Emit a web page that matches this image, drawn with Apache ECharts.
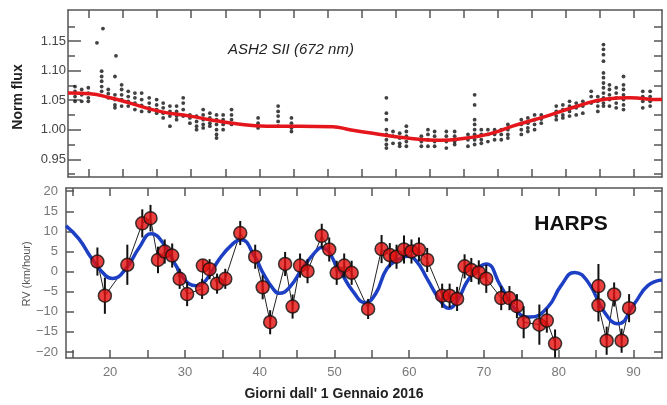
<!DOCTYPE html>
<html>
<head>
<meta charset="utf-8">
<script src="https://cdn.jsdelivr.net/npm/echarts@6/dist/echarts.min.js"></script>
<style>
  html, body { margin: 0; padding: 0; background: #fff; }
  #chart { width: 667px; height: 405px; }
</style>
</head>
<body>
<div id="chart"></div>
<script>
// --- pannello superiore: flusso normalizzato (ASH2 SII) ---
// colonne di punti: [x, [flussi...]]
var fluxCols = [
    [12.95, [1.073, 1.065, 1.056, 1.048]],
    [13.93, [1.068, 1.059, 1.048]],
    [14.90, [1.071, 1.062, 1.054, 1.048]],
    [16.86, [1.099, 1.090, 1.082, 1.073, 1.065]],
    [17.83, [1.068, 1.061, 1.054]],
    [18.81, [1.090, 1.059, 1.051, 1.042, 1.037]],
    [19.79, [1.076, 1.068, 1.059, 1.051, 1.040]],
    [20.76, [1.065, 1.056, 1.048, 1.040]],
    [21.74, [1.062, 1.054, 1.045, 1.034]],
    [22.73, [1.062, 1.051, 1.041, 1.031]],
    [23.84, [1.054, 1.045, 1.037, 1.031]],
    [24.93, [1.051, 1.042, 1.034, 1.028]],
    [25.89, [1.045, 1.037, 1.028, 1.020]],
    [26.88, [1.040, 1.031, 1.023, 1.006]],
    [27.86, [1.040, 1.031, 1.023, 1.017]],
    [28.83, [1.054, 1.045, 1.034, 1.023]],
    [29.81, [1.025, 1.020, 1.011]],
    [30.79, [1.023, 1.014, 1.006, 1.000]],
    [31.76, [1.034, 1.025, 1.017, 1.009, 1.003]],
    [32.74, [1.028, 1.020, 1.011, 1.006]],
    [33.72, [1.025, 1.017, 1.009, 1.000, 0.992, 0.986]],
    [34.69, [1.025, 1.017, 1.009, 1.000]],
    [35.92, [1.034, 1.025, 1.017, 1.009]],
    [39.82, [1.020, 1.011, 1.003]],
    [42.76, [1.040, 1.031, 1.023, 1.014, 1.006]],
    [44.72, [1.020, 1.011, 1.003, 0.997]],
    [58.65, [1.054, 1.028, 1.017, 1.000, 0.992, 0.983, 0.975, 0.969]],
    [59.62, [0.997, 0.989, 0.977]],
    [60.60, [0.994, 0.986, 0.977, 0.972]],
    [61.58, [1.006, 0.997, 0.989, 0.980, 0.972]],
    [63.78, [0.989, 0.980, 0.972]],
    [64.75, [1.000, 0.992, 0.983, 0.972]],
    [65.73, [0.997, 0.989, 0.980, 0.972]],
    [67.45, [0.997, 0.989, 0.980, 0.969]],
    [68.67, [0.997, 0.989, 0.980, 0.975]],
    [70.62, [0.992, 0.983, 0.972]],
    [71.60, [1.059, 1.042, 1.017, 1.009, 1.000, 0.992, 0.983, 0.975]],
    [72.58, [1.000, 0.992, 0.983, 0.977]],
    [73.55, [1.000, 0.992, 0.980]],
    [74.53, [1.000, 0.992, 0.983]],
    [75.51, [1.000, 0.992, 0.983]],
    [76.48, [1.009, 1.000, 0.992, 0.986]],
    [78.45, [1.017, 1.009, 1.000, 0.992]],
    [79.41, [1.020, 1.011, 1.003, 0.997]],
    [80.40, [1.025, 1.017, 1.009, 1.000]],
    [81.38, [1.025, 1.018, 1.011]],
    [83.58, [1.040, 1.031, 1.023, 1.017]],
    [84.55, [1.042, 1.034, 1.025, 1.020]],
    [85.53, [1.048, 1.040, 1.031, 1.023]],
    [86.51, [1.045, 1.037, 1.025]],
    [87.48, [1.048, 1.040, 1.028]],
    [88.71, [1.065, 1.056, 1.045]],
    [89.68, [1.056, 1.048, 1.040, 1.031]],
    [90.51, [1.144, 1.136, 1.127, 1.116, 1.096, 1.088, 1.079, 1.071, 1.062, 1.054, 1.045, 1.040]],
    [91.39, [1.076, 1.068, 1.059, 1.051, 1.040]],
    [92.38, [1.071, 1.062, 1.054, 1.045, 1.037]],
    [93.45, [1.090, 1.076, 1.068, 1.059, 1.051, 1.042, 1.034]],
    [96.28, [1.065, 1.056, 1.048, 1.037]],
    [97.36, [1.065, 1.056, 1.048, 1.040]]
];
var fluxOutliers = [[17.05, 1.171], [16.17, 1.147], [18.96, 1.125]];

// curva rossa (modello)
var fitX = [11.92, 12.21, 15.15, 18.08, 21.01, 25.41, 29.81, 32.74, 36.11, 41.10, 45.94, 50.78, 53.27, 56.64, 61.63, 66.47, 70.43, 73.8, 77.17, 82.16, 87.0, 90.95, 94.33, 98.73, 99.1];
var fitY = [1.062, 1.062, 1.061, 1.054, 1.045, 1.031, 1.023, 1.017, 1.011, 1.006, 1.006, 1.005, 1.000, 0.994, 0.986, 0.982, 0.986, 0.993, 1.006, 1.023, 1.041, 1.052, 1.054, 1.051, 1.051];

// --- pannello inferiore: HARPS RV ---
var rvDay = [18.3, 19.3, 22.3, 24.3, 25.4, 26.4, 27.3, 28.3, 29.3, 30.3, 32.3, 32.4, 33.3, 34.3, 35.4, 37.4, 39.4, 40.4, 41.4, 43.4, 44.4, 45.4, 46.4, 48.3, 49.3, 50.3, 51.3, 52.3, 54.5, 56.3, 57.4, 58.3, 59.3, 60.3, 61.3, 62.4, 64.4, 65.4, 66.4, 67.4, 68.3, 69.3, 70.3, 72.3, 73.4, 74.4, 75.3, 77.4, 78.4, 79.5, 85.3, 85.3, 86.4, 87.4, 88.4, 89.4];
var rvVal = [2.5, -6, 1.7, 12, 13.3, 2.9, 5, 4, -1.8, -5.6, -4.3, 1.5, 0.6, -3, -1.8, 9.6, 3.7, -3.9, -12.6, 1.9, -8.7, 1.5, 0.1, 8.9, 5.5, -0.3, 1.5, -0.3, -9.3, 5.6, 4.1, 3.7, 5.5, 5, 5.5, 2.9, -6, -6, -6.8, 1.3, 0.4, -0.2, -1.8, -6.6, -6.6, -8.6, -12.6, -13.2, -12.2, -17.9, -3.6, -8.4, -17.2, -5.7, -17.2, -9.1];
var rvErr = [3.5, 4.5, 5, 3.5, 3.3, 3.3, 3, 3, 2.5, 3, 2.5, 1.5, 2.5, 2.5, 2.5, 3, 3, 3, 3, 3, 3, 3, 3, 3, 3, 3, 3, 3, 2.5, 3.5, 3, 3, 3.5, 3, 3, 3, 3, 3, 3, 3, 3, 3, 3.5, 3, 3, 3, 4, 5, 3, 3.5, 5.5, 4, 3.5, 3, 3, 3.5];

// curva blu (modello)
var modX = [14.1, 15.8, 17.6, 19.4, 20.3, 22.1, 23.9, 25.5, 27.0, 28.8, 30.6, 31.5, 32.8, 34.6, 36.4, 37.5, 39.4, 40.4, 41.8, 42.6, 44.0, 45.8, 47.6, 48.2, 50.7, 52.5, 54.1, 55.5, 57.0, 58.5, 59.8, 61.0, 62.4, 64.0, 65.3, 66.5, 67.7, 69.0, 70.3, 72.2, 74.5, 76.2, 78.5, 80.3, 82.1, 83.9, 86.1, 87.9, 90.1, 91.9, 93.8];
var modY = [11.4, 8.2, 3.1, -1.0, -1.7, 0.7, 6.0, 9.4, 7.3, 1.5, -3.1, -3.5, -2.2, 3.1, 6.9, 7.9, 3.5, -0.2, -4.3, -5.4, -3.9, 1.1, 5.2, 6.0, 0.2, -5.0, -7.7, -5.5, 0.7, 3.0, 3.8, 2.5, -1.8, -6.8, -9.1, -7.0, -2.6, 0.5, 1.9, -3.5, -10.1, -11.3, -8.9, -3.5, -0.2, -2.6, -10.1, -13.0, -8.0, -3.5, -2.1];

// tick
var fluxTicks = [0.95, 1.00, 1.05, 1.10, 1.15];
var fluxMinor = [0.925, 0.975, 1.025, 1.075, 1.125, 1.175];
var fluxRight = [0.925, 0.95, 0.975, 1.00, 1.025, 1.05, 1.075, 1.10, 1.125, 1.15, 1.175];
var topXTicks = [15, 20, 25, 30, 35, 40, 45, 50, 55, 60, 65, 70, 75, 80, 85, 90, 95];
var dayTicks = [15, 20, 25, 30, 35, 40, 45, 50, 55, 60, 65, 70, 75, 80, 85, 90];
var dayLabels = [20, 30, 40, 50, 60, 70, 80, 90];
var rvTicks = [-20, -15, -10, -5, 0, 5, 10, 15, 20];

var fluxPts = [];
fluxCols.forEach(function (c) {
    c[1].forEach(function (f) { fluxPts.push([c[0], f]); });
});
fluxOutliers.forEach(function (p) { fluxPts.push(p); });

var fitData = fitX.map(function (x, i) { return [x, fitY[i]]; });
var modData = modX.map(function (x, i) { return [x, modY[i]]; });
var rvData = rvDay.map(function (d, i) { return [d, rvVal[i]]; });
var errData = rvDay.map(function (d, i) { return [d, rvVal[i] - rvErr[i], rvVal[i] + rvErr[i]]; });
// la linea nera non collega i punti separati da un buco lungo (80 -> 85)
var rvLine = [];
rvData.forEach(function (p, i) {
    if (i > 0 && p[0] - rvData[i - 1][0] > 4) rvLine.push('-');
    rvLine.push(p);
});

var FONT = '"Liberation Sans", Arial, sans-serif';
var AX = {onZero: false, lineStyle: {color: '#555', width: 1.5}};

function boxX(grid, pos, min, max, ticks) {
    return {
        type: 'value', gridIndex: grid, position: pos, min: min, max: max,
        axisLine: AX, splitLine: {show: false},
        axisTick: {inside: true, length: 8, customValues: ticks, lineStyle: {color: '#555', width: 1.5}},
        axisLabel: {show: false}
    };
}

var chart = echarts.init(document.getElementById('chart'));
chart.setOption({
    animation: false,
    backgroundColor: '#fff',
    grid: [
        {left: 68, right: 5, top: 10, height: 167},
        {left: 66, right: 5, top: 188, height: 170}
    ],
    xAxis: [
        boxX(0, 'bottom', 11.92, 99.1, topXTicks),
        boxX(0, 'top', 11.92, 99.1, topXTicks),
        {
            type: 'value', gridIndex: 1, position: 'bottom', min: 14.1, max: 93.8,
            axisLine: AX, splitLine: {show: false},
            axisTick: {inside: true, length: 8, customValues: dayTicks, lineStyle: {color: '#555', width: 1.5}},
            axisLabel: {customValues: dayLabels, color: '#777', fontSize: 13, fontFamily: FONT, margin: 8}
        },
        boxX(1, 'top', 14.1, 93.8, dayTicks)
    ],
    yAxis: [
        {
            type: 'value', gridIndex: 0, position: 'left', min: 0.92, max: 1.2025,
            axisLine: AX, splitLine: {show: false},
            axisTick: {inside: true, length: 13, customValues: fluxTicks, lineStyle: {color: '#555', width: 1.5}},
            axisLabel: {
                customValues: fluxTicks, color: '#444', fontSize: 13, fontFamily: FONT, margin: 2,
                formatter: function (v) { return v.toFixed(2); }
            }
        },
        {
            type: 'value', gridIndex: 0, position: 'left', min: 0.92, max: 1.2025,
            axisLine: {show: false}, splitLine: {show: false}, axisLabel: {show: false},
            axisTick: {inside: true, length: 7, customValues: fluxMinor, lineStyle: {color: '#555', width: 1.5}}
        },
        {
            type: 'value', gridIndex: 0, position: 'right', min: 0.92, max: 1.2025,
            axisLine: AX, splitLine: {show: false}, axisLabel: {show: false},
            axisTick: {inside: true, length: 8, customValues: fluxRight, lineStyle: {color: '#555', width: 1.5}}
        },
        {
            type: 'value', gridIndex: 1, position: 'left', min: -21.5, max: 20.8,
            axisLine: AX, splitLine: {show: false},
            axisTick: {inside: true, length: 8, customValues: rvTicks, lineStyle: {color: '#555', width: 1.5}},
            axisLabel: {
                customValues: rvTicks, color: '#777', fontSize: 13, fontFamily: FONT, margin: 8,
                formatter: function (v) { return String(v).replace('-', '\u2212'); }
            }
        },
        {
            type: 'value', gridIndex: 1, position: 'right', min: -21.5, max: 20.8,
            axisLine: AX, splitLine: {show: false}, axisLabel: {show: false},
            axisTick: {inside: true, length: 8, customValues: rvTicks, lineStyle: {color: '#555', width: 1.5}}
        }
    ],
    graphic: [
        {type: 'text', x: 18, y: 97, rotation: Math.PI / 2,
            style: {text: 'Norm flux', font: 'bold 14px ' + FONT, fill: '#222', align: 'center', verticalAlign: 'middle'}},
        {type: 'text', x: 27, y: 274, rotation: Math.PI / 2,
            style: {text: 'RV (km/hour)', font: '11px ' + FONT, fill: '#555', align: 'center', verticalAlign: 'middle'}},
        {type: 'text', x: 291, y: 50,
            style: {text: 'ASH2 SII (672 nm)', font: 'italic 15px ' + FONT, fill: '#222', align: 'center', verticalAlign: 'middle'}},
        {type: 'text', x: 571, y: 224,
            style: {text: 'HARPS', font: 'bold 21px ' + FONT, fill: '#111', align: 'center', verticalAlign: 'middle'}},
        {type: 'text', x: 334, y: 394,
            style: {text: "Giorni dall' 1 Gennaio 2016", font: 'bold 14px ' + FONT, fill: '#222', align: 'center', verticalAlign: 'middle'}}
    ],
    series: [
        {
            type: 'scatter', xAxisIndex: 0, yAxisIndex: 0, data: fluxPts,
            symbolSize: 3.8, itemStyle: {color: '#111'}, z: 2
        },
        {
            type: 'line', xAxisIndex: 0, yAxisIndex: 0, data: fitData, smooth: true,
            showSymbol: false, lineStyle: {color: '#e4161b', width: 3.5}, z: 3
        },
        {
            type: 'line', xAxisIndex: 2, yAxisIndex: 3, data: rvLine, connectNulls: false,
            showSymbol: false, lineStyle: {color: '#222', width: 1}, z: 2
        },
        {
            type: 'line', xAxisIndex: 2, yAxisIndex: 3, data: modData, smooth: true,
            showSymbol: false, lineStyle: {color: '#1c3fc4', width: 3.5}, z: 3
        },
        {
            type: 'custom', xAxisIndex: 2, yAxisIndex: 3, data: errData, z: 4,
            encode: {x: 0, y: [1, 2]},
            renderItem: function (params, api) {
                var p1 = api.coord([api.value(0), api.value(1)]);
                var p2 = api.coord([api.value(0), api.value(2)]);
                return {
                    type: 'line',
                    shape: {x1: p1[0], y1: p1[1], x2: p2[0], y2: p2[1]},
                    style: {stroke: '#111', lineWidth: 2}
                };
            }
        },
        {
            type: 'scatter', xAxisIndex: 2, yAxisIndex: 3, data: rvData, z: 5,
            symbolSize: 13, itemStyle: {color: '#e3100f', borderColor: '#111', borderWidth: 1.5}
        }
    ]
});
</script>
</body>
</html>
